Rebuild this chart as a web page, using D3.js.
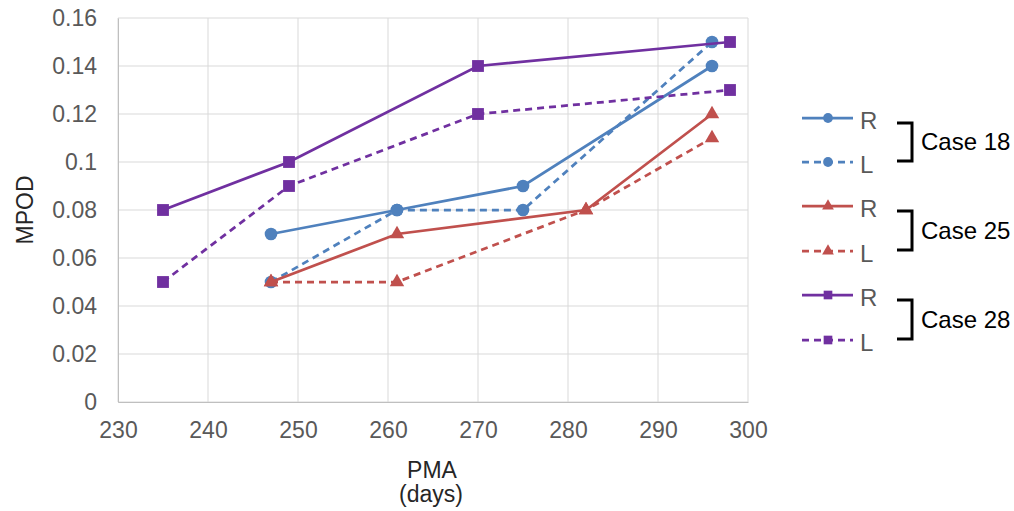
<!DOCTYPE html>
<html><head><meta charset="utf-8">
<script src="https://cdn.jsdelivr.net/npm/d3@7"></script>
<style>body{margin:0;background:#fff;font-family:"Liberation Sans",Arial,sans-serif;}</style>
</head><body><svg id="c" width="1014" height="511"></svg>
<script>
const xTicks = [230,240,250,260,270,280,290,300];
const yTicks = [0,0.02,0.04,0.06,0.08,0.1,0.12,0.14,0.16];
const yTickLabels = ["0","0.02","0.04","0.06","0.08","0.1","0.12","0.14","0.16"];
const case18R = [[247,0.07],[261,0.08],[275,0.09],[296,0.14]];
const case18L = [[247,0.05],[261,0.08],[275,0.08],[296,0.15]];
const case25R = [[247,0.05],[261,0.07],[282,0.08],[296,0.12]];
const case25L = [[247,0.05],[261,0.05],[282,0.08],[296,0.11]];
const case28R = [[235,0.08],[249,0.10],[270,0.14],[298,0.15]];
const case28L = [[235,0.05],[249,0.09],[270,0.12],[298,0.13]];
const caseNames = ["Case 18","Case 25","Case 28"];
const colors = ["#4F81BD","#C0504D","#7030A0"];
const shapes = [d3.symbolCircle, d3.symbolTriangle, d3.symbolSquare];
const series = [
 {data:case18R, c:0, dash:false, label:"R"},
 {data:case18L, c:0, dash:true, label:"L"},
 {data:case25R, c:1, dash:false, label:"R"},
 {data:case25L, c:1, dash:true, label:"L"},
 {data:case28R, c:2, dash:false, label:"R"},
 {data:case28L, c:2, dash:true, label:"L"}
];
const FONT = "Liberation Sans, Arial, sans-serif";
const svg = d3.select("#c");
const L=118, R=748, T=18, B=402;
const x = d3.scaleLinear().domain([230,300]).range([L,R]);
const y = d3.scaleLinear().domain([0,0.16]).range([B,T]);
const g = svg.append("g");
// grid
g.selectAll(".gx").data(xTicks).join("line").attr("x1",d=>x(d)).attr("x2",d=>x(d)).attr("y1",T).attr("y2",B).attr("stroke","#d9d9d9").attr("stroke-width",1);
g.selectAll(".gy").data(yTicks).join("line").attr("x1",L).attr("x2",R).attr("y1",d=>y(d)).attr("y2",d=>y(d)).attr("stroke","#d9d9d9").attr("stroke-width",1);
// axes
const xa = svg.append("g").attr("transform",`translate(0,${B})`).call(d3.axisBottom(x).tickValues(xTicks).tickSize(0).tickPadding(20).tickFormat(d3.format("d")));
xa.select(".domain").attr("stroke","#bfbfbf");
const ya = svg.append("g").attr("transform",`translate(${L},0)`).call(d3.axisLeft(y).tickValues(yTicks).tickSize(0).tickPadding(21).tickFormat((d,i)=>yTickLabels[i]));
ya.select(".domain").attr("stroke","#bfbfbf");
svg.selectAll(".tick text").attr("fill","#595959").style("font-size","23px").style("font-family",FONT);
// titles
svg.append("text").attr("x",432).attr("y",478).attr("text-anchor","middle").attr("fill","#262626").style("font-size","23px").style("font-family",FONT).text("PMA");
svg.append("text").attr("x",431).attr("y",502).attr("text-anchor","middle").attr("fill","#262626").style("font-size","23px").style("font-family",FONT).text("(days)");
svg.append("text").attr("transform","translate(33,210) rotate(-90)").attr("text-anchor","middle").attr("fill","#262626").style("font-size","23px").style("font-family",FONT).text("MPOD");
// lines
const line = d3.line().x(d=>x(d[0])).y(d=>y(d[1]));
series.forEach(s=>{
  svg.append("path").attr("d",line(s.data)).attr("fill","none").attr("stroke",colors[s.c]).attr("stroke-width",2.75).attr("stroke-dasharray",s.dash?"7,5":null);
  svg.selectAll(null).data(s.data).join("path").attr("transform",d=>`translate(${x(d[0])},${y(d[1])})`)
    .attr("d",d3.symbol().type(shapes[s.c]).size(s.c===0?125:(s.c===1?90:140))).attr("fill",colors[s.c]);
});
// legend
const rowY = [118,162,206,251,295,340];
series.forEach((s,i)=>{
  const yy = rowY[i];
  svg.append("line").attr("x1",802).attr("x2",853).attr("y1",yy).attr("y2",yy).attr("stroke",colors[s.c]).attr("stroke-width",2.75).attr("stroke-dasharray",s.dash?"7,5":null);
  svg.append("path").attr("transform",`translate(828,${yy})`).attr("d",d3.symbol().type(shapes[s.c]).size(s.c===1?60:75)).attr("fill",colors[s.c]);
  svg.append("text").attr("x",860).attr("y",yy+11).attr("fill","#595959").style("font-size","24px").style("font-family",FONT).text(s.label);
});
caseNames.forEach((n,i)=>{
  const y0 = rowY[2*i]+5, y1 = rowY[2*i+1]-1;
  svg.append("path").attr("d",`M897,${y0}H912V${y1}H897`).attr("fill","none").attr("stroke","#000").attr("stroke-width",3);
  svg.append("text").attr("x",921).attr("y",(y0+y1)/2+8).attr("fill","#000").style("font-size","24px").style("font-family",FONT).text(n);
});
</script></body></html>
